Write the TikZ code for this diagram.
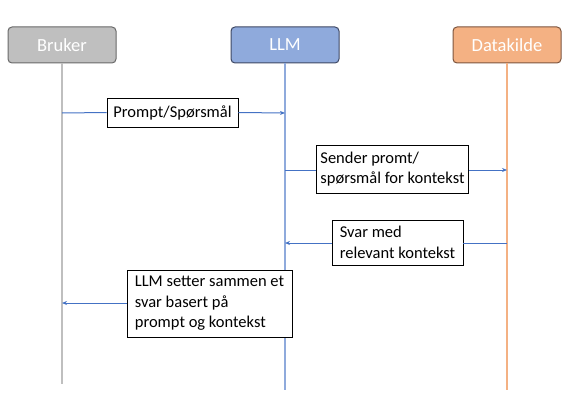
\documentclass[tikz,border=0pt]{standalone}
\usepackage{fontspec}
\setmainfont{Carlito}
\usetikzlibrary{arrows.meta}

\definecolor{brukerfill}{RGB}{191,191,191}
\definecolor{brukerline}{RGB}{105,105,105}
\definecolor{llmfill}{RGB}{143,170,220}
\definecolor{llmline}{RGB}{62,72,100}
\definecolor{datafill}{RGB}{244,177,131}
\definecolor{dataline}{RGB}{125,85,62}
\definecolor{msgcol}{RGB}{68,114,196}

\tikzset{
    actor/.style={rounded corners=4pt,line width=1pt,minimum width=108pt,minimum height=36pt,text=white,font=\fontsize{18.5}{22}\selectfont},
    lifeline/.style={line width=1.5pt},
    msgbox/.style={draw=black,fill=white,line width=0.8pt,align=left,inner xsep=4pt,inner ysep=3pt,font=\fontsize{16.5}{20.5}\selectfont},
    msg/.style={draw=msgcol,line width=1pt},
    msgarrow/.style={msg,-{Stealth[length=5pt,width=4pt]}}
}

\begin{document}
\begin{tikzpicture}[x=1pt,y=-1pt]

    \def\xb{62}%Bruker
    \def\xl{285}%LLM
    \def\xd{507}%Datakilde
    \def\ytop{45}%Hoyde aktorer

    \useasboundingbox (0,0) rectangle (573,412);

    %Aktorer
    \node[actor,fill=brukerfill,draw=brukerline] (bruker) at (\xb,\ytop) {Bruker};
    \node[actor,fill=llmfill,draw=llmline] (llm) at (\xl,\ytop) {LLM};
    \node[actor,fill=datafill,draw=dataline] (datakilde) at (\xd,\ytop) {Datakilde};

    %Livslinjer
    \coordinate (bruker end) at (\xb,384);
    \coordinate (llm end) at (\xl,390);
    \coordinate (datakilde end) at (\xd,390);
    \draw[lifeline,brukerfill] (bruker.south)--(bruker end);
    \draw[lifeline,llmfill] (llm.south)--(llm end);
    \draw[lifeline,datafill] (datakilde.south)--(datakilde end);

    %Meldinger
    \coordinate (b1) at (\xb,113);
    \coordinate (l1) at (\xl,113);
    \node[msgbox,minimum width=131pt,minimum height=29pt] (prompt) at (172.5,112.5) {Prompt/Spørsmål};
    \draw[msg] (b1)--(prompt.west);
    \draw[msgarrow] (prompt.east)--(l1);

    \coordinate (l2) at (\xl,170);
    \coordinate (d2) at (\xd,170);
    \node[msgbox,minimum width=151pt,minimum height=48pt] (sender) at (392.5,169) {Sender promt/\\spørsmål for kontekst};
    \draw[msg] (l2)--(sender.west|-l2);
    \draw[msgarrow] (sender.east|-d2)--(d2);

    \coordinate (d3) at (\xd,243);
    \coordinate (l3) at (\xl,243);
    \node[msgbox,minimum width=131pt,minimum height=45pt] (svar) at (397.5,242.5) {Svar med\\relevant kontekst};
    \draw[msg] (d3)--(svar.east|-d3);
    \draw[msgarrow] (svar.west|-l3)--(l3);

    \coordinate (l4) at (\xl,303);
    \coordinate (b4) at (\xb,303);
    \node[msgbox,minimum width=165pt,minimum height=67pt] (svarbruker) at (209.5,303.5) {LLM setter sammen et\\svar basert på\\prompt og kontekst};
    \draw[msgarrow] (svarbruker.west|-b4)--(b4);

\end{tikzpicture}
\end{document}
